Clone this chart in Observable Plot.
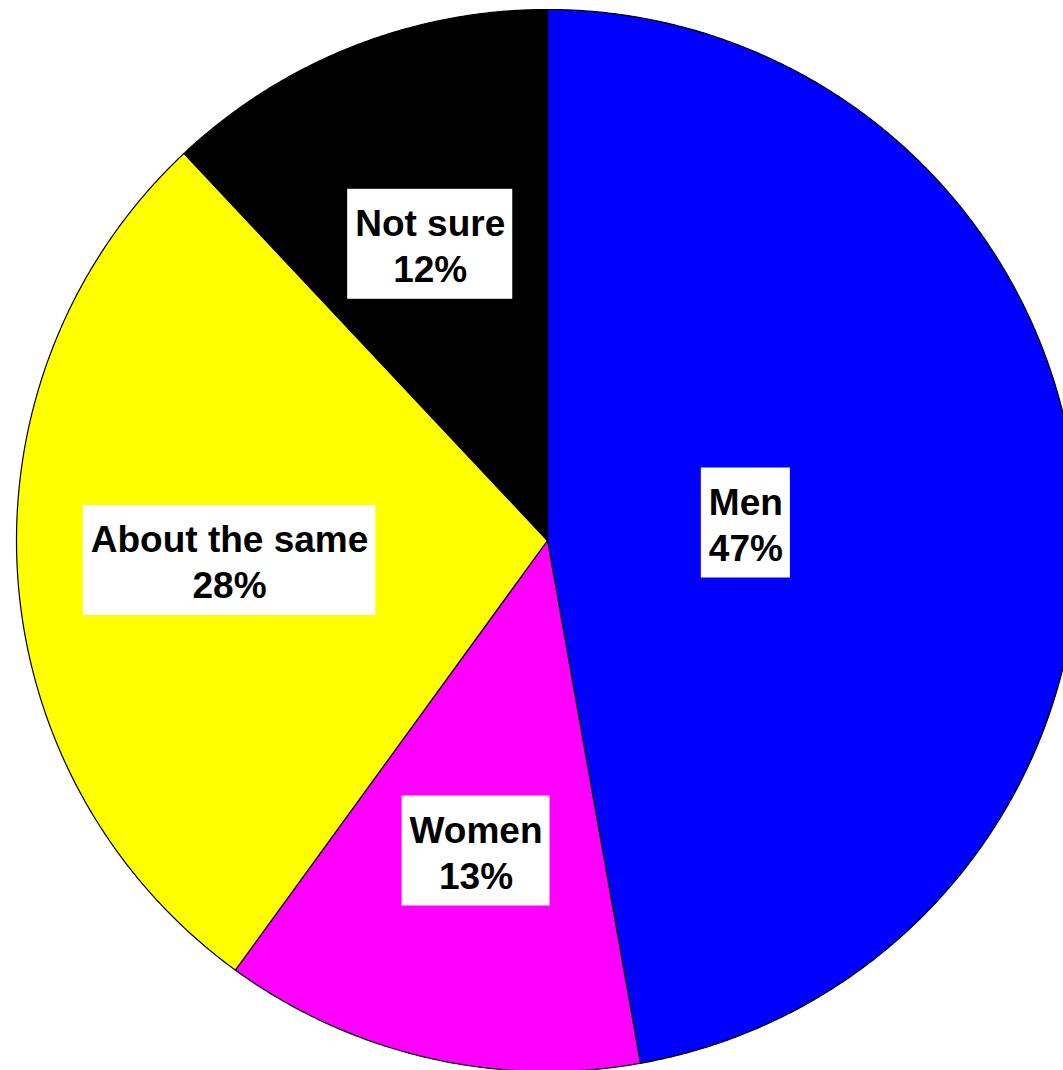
<!DOCTYPE html>
<html>
<head>
<meta charset="utf-8">
<script src="https://cdn.jsdelivr.net/npm/d3@7"></script>
<script src="https://cdn.jsdelivr.net/npm/@observablehq/plot@0.6"></script>
<style>
  html, body { margin: 0; padding: 0; background: #fff; overflow: hidden; }
  #chart svg { overflow: hidden; display: block; }
</style>
</head>
<body>
<div id="chart"></div>
<script>
// ---- Data ----
const categories = ["Men", "Women", "About the same", "Not sure"];
const values = [47.2, 12.8, 28.0, 12.0];
const colors = ["#0000ff", "#ff00ff", "#ffff00", "#000000"];

// ---- Layout ----
const W = 1063, H = 1070;
const cx = 547, cy = 540, R = 531;
const fontSize = 37, lineGap = 46, boxH = 110, padX = 7.5;
const fontFamily = "'Liberation Sans', Arial, sans-serif";
const labelFrac = {"Men": 0.375};

const rows = categories.map((c, i) => ({cat: c, value: values[i]}));
const arcs = d3.pie().sort(null).value(d => d.value)(rows);

// polygon outlines for each slice (center -> arc -> center)
const pts = [];
arcs.forEach(a => {
  const c = a.data.cat;
  pts.push({cat: c, x: cx, y: cy});
  const n = Math.max(2, Math.ceil((a.endAngle - a.startAngle) / 0.005));
  for (let k = 0; k <= n; k++) {
    const t = a.startAngle + (a.endAngle - a.startAngle) * k / n;
    pts.push({cat: c, x: cx + R * Math.sin(t), y: cy - R * Math.cos(t)});
  }
  pts.push({cat: c, x: cx, y: cy});
});

// label positions + boxes
const ctx = document.createElement("canvas").getContext("2d");
ctx.font = `bold ${fontSize}px ${fontFamily}`;
const labels = arcs.map(a => {
  const c = a.data.cat;
  const mid = (a.startAngle + a.endAngle) / 2;
  const f = labelFrac[c] ?? 0.6;
  const x = cx + R * f * Math.sin(mid);
  const y = cy - R * f * Math.cos(mid);
  const pct = d3.format(".0f")(a.data.value) + "%";
  const w = Math.max(ctx.measureText(c).width, ctx.measureText(pct).width) + 2 * padX;
  return {cat: c, x, y, text: c + "\n" + pct, x1: x - w / 2, x2: x + w / 2, y1: y - boxH / 2, y2: y + boxH / 2};
});

const chart = Plot.plot({
  width: W,
  height: H,
  margin: 0,
  x: {domain: [0, W], range: [0, W], axis: null},
  y: {domain: [0, H], range: [0, H], axis: null},
  color: {domain: categories, range: colors},
  style: {background: "#fff", overflow: "hidden"},
  marks: [
    Plot.line(pts, {x: "x", y: "y", z: "cat", fill: "cat", stroke: "#000", strokeWidth: 1.2, curve: "linear"}),
    Plot.rect(labels, {x1: "x1", x2: "x2", y1: "y1", y2: "y2", fill: "#fff"}),
    Plot.text(labels, {
      x: "x", y: "y", text: "text",
      fontSize: fontSize, fontWeight: "bold", fontFamily: fontFamily,
      lineHeight: lineGap / fontSize, fill: "#000"
    })
  ]
});
document.getElementById("chart").appendChild(chart);
</script>
</body>
</html>
